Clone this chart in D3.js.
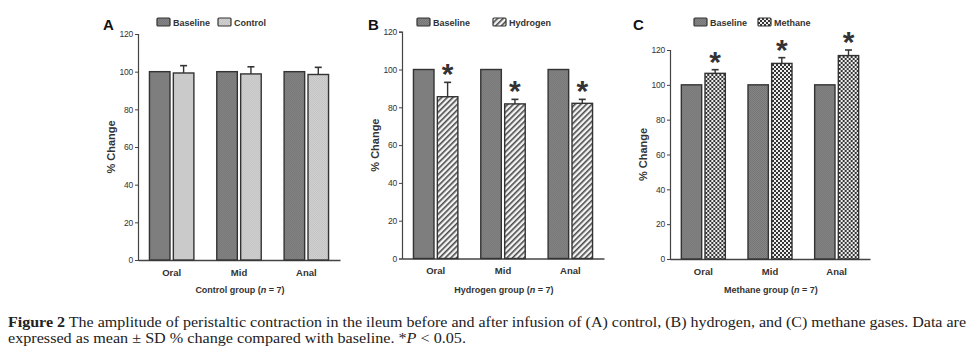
<!DOCTYPE html>
<html><head><meta charset="utf-8">
<script src="https://cdn.jsdelivr.net/npm/d3@7"></script>
<style>
body{margin:0;background:#fff;}
svg{display:block;}
</style></head>
<body>
<svg id="chart" width="979" height="357"></svg>
<script>
// ---------- data ----------
const categories = ["Oral", "Mid", "Anal"];
const yTicks = [0, 20, 40, 60, 80, 100, 120];

const baselineValues = [100, 100, 100];

const controlValues = [99.3, 98.8, 98.5];
const controlSD = [3.9, 3.8, 3.8];

const hydrogenValues = [85.6, 81.8, 82.1];
const hydrogenSD = [7.6, 2.4, 2.1];

const methaneValues = [106.6, 112.3, 116.8];
const methaneSD = [2.1, 3.3, 3.2];

const controlSig = [false, false, false];
const hydrogenSig = [true, true, true];
const methaneSig = [true, true, true];

// ---------- layout ----------
const panels = [
  {letter: "A", name: "Control", values: controlValues, sd: controlSD, sig: controlSig, pattern: "pControl",
   title: "Control group", x0: 138, x1: 340, y0: 260, y1: 34, letterX: 103, legendX: 157, legend2X: 218},
  {letter: "B", name: "Hydrogen", values: hydrogenValues, sd: hydrogenSD, sig: hydrogenSig, pattern: "pHydrogen",
   title: "Hydrogen group", x0: 402, x1: 604, y0: 258.5, y1: 31.7, letterX: 368, legendX: 417, legend2X: 493},
  {letter: "C", name: "Methane", values: methaneValues, sd: methaneSD, sig: methaneSig, pattern: "pMethane",
   title: "Methane group", x0: 670, x1: 870, y0: 259, y1: 50, letterX: 633, legendX: 694, legend2X: 758}
];

const svg = d3.select("#chart");
const defs = svg.append("defs");

// baseline texture
const pb = defs.append("pattern").attr("id", "pBaseline").attr("patternUnits", "userSpaceOnUse")
  .attr("width", 2).attr("height", 2);
pb.append("rect").attr("width", 2).attr("height", 2).attr("fill", "#858585");
pb.append("rect").attr("width", 1).attr("height", 1).attr("fill", "#767676");
pb.append("rect").attr("x", 1).attr("y", 1).attr("width", 1).attr("height", 1).attr("fill", "#767676");

// control texture
const pc = defs.append("pattern").attr("id", "pControl").attr("patternUnits", "userSpaceOnUse")
  .attr("width", 2).attr("height", 2);
pc.append("rect").attr("width", 2).attr("height", 2).attr("fill", "#d2d2d2");
pc.append("rect").attr("width", 1).attr("height", 1).attr("fill", "#c2c2c2");
pc.append("rect").attr("x", 1).attr("y", 1).attr("width", 1).attr("height", 1).attr("fill", "#c2c2c2");

// hydrogen hatch
const ph = defs.append("pattern").attr("id", "pHydrogen").attr("patternUnits", "userSpaceOnUse")
  .attr("width", 4).attr("height", 4).attr("patternTransform", "rotate(45)");
ph.append("rect").attr("width", 4).attr("height", 4).attr("fill", "#f4f4f4");
ph.append("rect").attr("width", 1.6).attr("height", 4).attr("fill", "#4a4a4a");

// methane checkerboard
const pm = defs.append("pattern").attr("id", "pMethane").attr("patternUnits", "userSpaceOnUse")
  .attr("width", 4).attr("height", 4);
pm.append("rect").attr("width", 4).attr("height", 4).attr("fill", "#f0f0f0");
pm.append("rect").attr("width", 2).attr("height", 2).attr("fill", "#353535");
pm.append("rect").attr("x", 2).attr("y", 2).attr("width", 2).attr("height", 2).attr("fill", "#353535");

const textCol = "#333";
const outline = "#333";
const sans = "'Liberation Sans', Arial, sans-serif";

panels.forEach(p => {
  const g = svg.append("g");
  const y = d3.scaleLinear().domain([0, 120]).range([p.y0, p.y1]);
  const x = d3.scaleBand().domain(categories).range([p.x0, p.x1]).paddingInner(0.34).paddingOuter(0.17);
  const xs = d3.scaleBand().domain(["Baseline", p.name]).range([0, x.bandwidth()]).paddingInner(0.14);

  // y axis
  const yAxis = d3.axisLeft(y).tickValues(yTicks).tickSize(3).tickPadding(2);
  const ya = g.append("g").attr("transform", `translate(${p.x0},0)`).call(yAxis);
  ya.select(".domain").attr("stroke", "#444").attr("stroke-width", 1.2);
  ya.selectAll(".tick line").attr("stroke", "#444");
  ya.selectAll(".tick text").attr("font-family", sans).attr("font-size", 8.5).attr("fill", textCol)
    .attr("letter-spacing", -0.2);

  // x axis
  const xAxis = d3.axisBottom(x).tickSize(0).tickPadding(9);
  const xa = g.append("g").attr("transform", `translate(0,${p.y0})`).call(xAxis);
  xa.select(".domain").attr("stroke", "#444").attr("stroke-width", 1.4);
  xa.selectAll(".tick text").attr("font-family", sans).attr("font-size", 9.5).attr("font-weight", "bold")
    .attr("fill", textCol);

  // bars
  const rows = categories.map((c, i) => ({c, base: baselineValues[i], v: p.values[i], sd: p.sd[i], sig: p.sig[i]}));
  const grp = g.selectAll(".grp").data(rows).join("g").attr("transform", d => `translate(${x(d.c)},0)`);

  grp.append("rect")
    .attr("x", xs("Baseline")).attr("width", xs.bandwidth())
    .attr("y", d => y(d.base)).attr("height", d => y(0) - y(d.base))
    .attr("fill", "url(#pBaseline)").attr("stroke", outline).attr("stroke-width", 1.4);

  const xe = xs(p.name);
  grp.append("rect")
    .attr("x", xe).attr("width", xs.bandwidth())
    .attr("y", d => y(d.v)).attr("height", d => y(0) - y(d.v))
    .attr("fill", `url(#${p.pattern})`).attr("stroke", outline).attr("stroke-width", 1.4);

  // error bars (upper)
  const cx = xe + xs.bandwidth() / 2;
  grp.append("line").attr("x1", cx).attr("x2", cx)
    .attr("y1", d => y(d.v)).attr("y2", d => y(d.v + d.sd))
    .attr("stroke", outline).attr("stroke-width", 1.4);
  grp.append("line").attr("x1", cx - 3.5).attr("x2", cx + 3.5)
    .attr("y1", d => y(d.v + d.sd)).attr("y2", d => y(d.v + d.sd))
    .attr("stroke", outline).attr("stroke-width", 1.6);

  // significance stars
  grp.filter(d => d.sig).append("text")
    .attr("x", cx).attr("y", d => y(d.v + d.sd) + 2)
    .attr("text-anchor", "middle").attr("font-family", sans).attr("font-size", 30).attr("font-weight", "bold")
    .attr("fill", "#333").text("*");

  // y title
  g.append("text")
    .attr("transform", `translate(${p.x0 - 23},${(p.y0 + p.y1) / 2}) rotate(-90)`)
    .attr("text-anchor", "middle").attr("font-family", sans).attr("font-size", 11).attr("font-weight", "bold")
    .attr("fill", textCol).text("% Change");

  // x title
  const xt = g.append("text")
    .attr("x", (p.x0 + p.x1) / 2 + 1).attr("y", 293)
    .attr("text-anchor", "middle").attr("font-family", sans).attr("font-size", 9).attr("font-weight", "bold")
    .attr("fill", textCol);
  xt.append("tspan").text(p.title + " (");
  xt.append("tspan").attr("font-style", "italic").text("n");
  xt.append("tspan").text(" = 7)");

  // panel letter
  g.append("text").attr("x", p.letterX).attr("y", 30)
    .attr("font-family", sans).attr("font-size", 15).attr("font-weight", "bold").attr("fill", "#111")
    .text(p.letter);

  // legend
  const legendItems = [
    {label: "Baseline", fill: "url(#pBaseline)", lx: p.legendX},
    {label: p.name, fill: `url(#${p.pattern})`, lx: p.legend2X}
  ];
  const lg = g.selectAll(".lg").data(legendItems).join("g");
  lg.append("rect").attr("x", d => d.lx).attr("y", 18).attr("width", 13).attr("height", 8)
    .attr("rx", 1).attr("fill", d => d.fill).attr("stroke", outline).attr("stroke-width", 1.2);
  lg.append("text").attr("x", d => d.lx + 16).attr("y", 25.5)
    .attr("font-family", sans).attr("font-size", 9).attr("font-weight", "bold").attr("fill", textCol)
    .text(d => d.label);
});

// caption
const serif = "'Liberation Serif', 'DejaVu Serif', serif";
const c1 = svg.append("text").attr("x", 8).attr("y", 327).attr("font-family", serif).attr("font-size", 15)
  .attr("fill", "#222").attr("textLength", 958).attr("lengthAdjust", "spacingAndGlyphs");
c1.append("tspan").attr("font-weight", "bold").text("Figure 2");
c1.append("tspan").text(" The amplitude of peristaltic contraction in the ileum before and after infusion of (A) control, (B) hydrogen, and (C) methane gases. Data are");
const c2 = svg.append("text").attr("x", 8).attr("y", 343).attr("font-family", serif).attr("font-size", 15)
  .attr("fill", "#222").attr("textLength", 458).attr("lengthAdjust", "spacingAndGlyphs");
c2.append("tspan").text("expressed as mean ± SD % change compared with baseline. *");
c2.append("tspan").attr("font-style", "italic").text("P");
c2.append("tspan").text(" < 0.05.");
</script>
</body></html>
